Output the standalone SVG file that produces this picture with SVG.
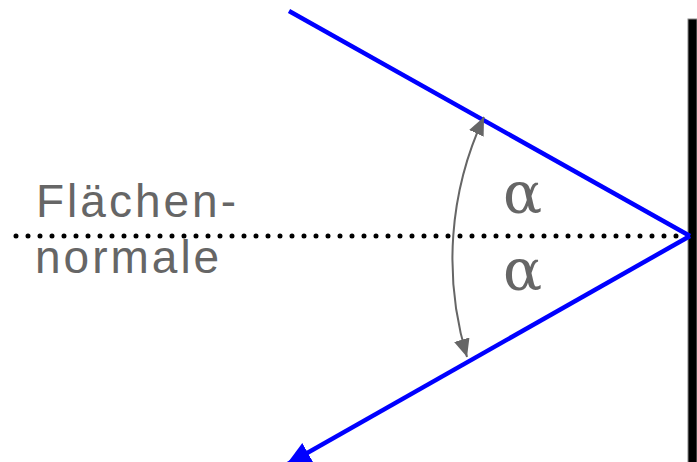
<svg xmlns="http://www.w3.org/2000/svg" width="697" height="462" viewBox="0 0 697 462">
<style>
.ray{stroke:#0000ff;stroke-width:4.5;fill:none}
.lbl{font-family:"Liberation Sans",Arial,sans-serif;font-size:46px;fill:#666;letter-spacing:3px}
.greek{font-family:"DejaVu Serif","Liberation Serif",serif;font-size:58px;fill:#666}
</style>
<defs>
<marker id="blueArrow" markerUnits="userSpaceOnUse" markerWidth="28" markerHeight="24" refX="25" refY="11" orient="auto">
<path d="M0,0 L25,11 L0,22 Z" fill="#0000ff"/>
</marker>
<marker id="grayArrow" markerUnits="userSpaceOnUse" markerWidth="20" markerHeight="18" refX="18" refY="8" orient="auto-start-reverse">
<path d="M0,0 L18,8 L0,16 Z" fill="#666"/>
</marker>
</defs>
<g id="wall"><rect x="688" y="19" width="9" height="444" fill="#000" stroke="#888" stroke-width="1"/></g>
<g id="normal"><line x1="16" y1="236" x2="688" y2="236" stroke="#000" stroke-width="5" stroke-linecap="round" stroke-dasharray="0 12"/></g>
<g id="connectors">
<line id="incident" class="ray" x1="289" y1="11" x2="690" y2="236"/>
<line id="reflected" class="ray" x1="690" y1="236" x2="286" y2="465" marker-end="url(#blueArrow)"/>
<path id="angle-arc" d="M484,117 A336,336 0 0 0 467,357" fill="none" stroke="#666" stroke-width="2" marker-start="url(#grayArrow)" marker-end="url(#grayArrow)"/>
</g>
<g id="label-normal">
<text class="lbl" x="36" y="217">Flächen-</text>
<text class="lbl" x="35" y="273">normale</text>
</g>
<g id="alpha-top"><text class="greek" x="503" y="213">α</text></g>
<g id="alpha-bottom"><text class="greek" x="503" y="290">α</text></g>
</svg>
